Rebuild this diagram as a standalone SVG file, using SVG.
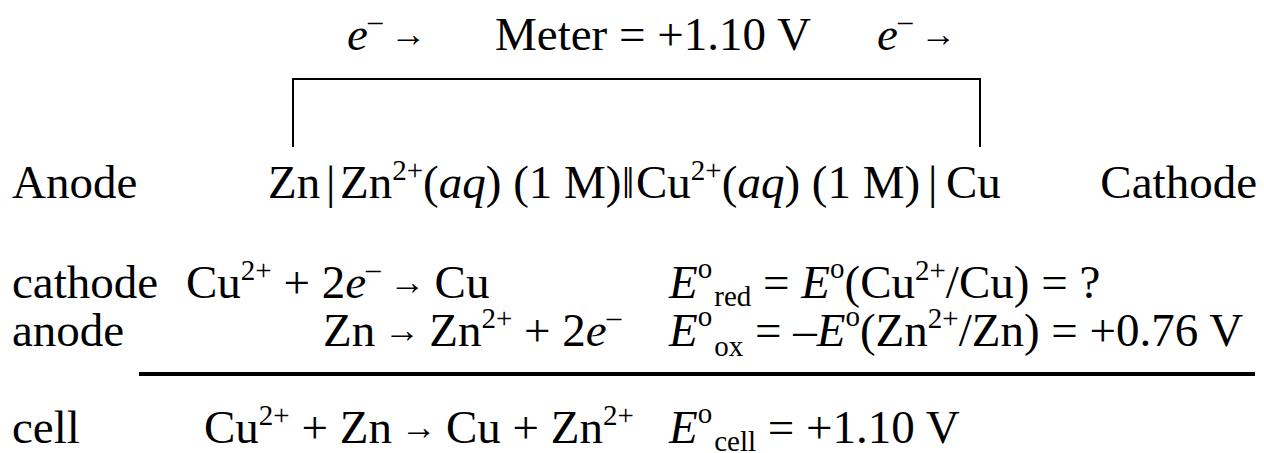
<svg xmlns="http://www.w3.org/2000/svg" width="1264" height="453" viewBox="0 0 1264 453">
<style>
text{font-family:"Liberation Serif","Times New Roman",serif;font-size:47px;fill:#000}
.i{font-style:italic}
.s{font-size:29px}
.a{font-size:36px}
.d{font-size:44px}
.w{stroke:#000;stroke-width:2;fill:none}
</style>
<rect width="1264" height="453" fill="#fff"/>
<g id="top-label">
<text x="347" y="50"><tspan class="i">e</tspan><tspan class="s" dy="-19">–</tspan><tspan class="a" dx="8" dy="15">→</tspan></text>
<text x="495" y="50">Meter = +1.10 V</text>
<text x="877" y="50"><tspan class="i">e</tspan><tspan class="s" dy="-19">–</tspan><tspan class="a" dx="8" dy="15">→</tspan></text>
</g>
<g id="connectors">
<path class="w" d="M293 147V79H980V147"/>
<line x1="139" y1="374" x2="1255" y2="374" stroke="#000" stroke-width="4"/>
</g>
<g id="anode-label"><text x="12" y="198">Anode</text></g>
<g id="cell-notation">
<text y="198"><tspan x="268">Zn</tspan><tspan x="326">|</tspan><tspan x="340">Zn</tspan><tspan class="s" dy="-18">2+</tspan><tspan dy="18">(</tspan><tspan class="i">aq</tspan><tspan>) (1 M)</tspan><tspan class="d" x="622">‖</tspan><tspan x="636">Cu</tspan><tspan class="s" dy="-18">2+</tspan><tspan dy="18">(</tspan><tspan class="i">aq</tspan><tspan>) (1 M)</tspan><tspan x="928">|</tspan><tspan x="946">Cu</tspan></text>
</g>
<g id="cathode-label"><text x="1257" y="198" text-anchor="end">Cathode</text></g>
<g id="cathode-reaction">
<text x="12" y="298">cathode</text>
<text x="186" y="298">Cu<tspan class="s" dy="-18">2+</tspan><tspan dy="18"> + 2</tspan><tspan class="i">e</tspan><tspan class="s" dy="-19">–</tspan><tspan class="a" dy="15"> → </tspan><tspan dy="4">Cu</tspan></text>
<text x="669" y="298"><tspan class="i">E</tspan><tspan class="s" dy="-20">o</tspan><tspan class="s" dx="2" dy="28">red</tspan><tspan dy="-8"> = </tspan><tspan class="i">E</tspan><tspan class="s" dy="-20">o</tspan><tspan dy="20">(Cu</tspan><tspan class="s" dy="-18">2+</tspan><tspan dy="18">/Cu) = ?</tspan></text>
</g>
<g id="anode-reaction">
<text x="12" y="346">anode</text>
<text x="323" y="346">Zn<tspan class="a" dy="-4"> → </tspan><tspan dy="4">Zn</tspan><tspan class="s" dy="-18">2+</tspan><tspan dy="18"> + 2</tspan><tspan class="i">e</tspan><tspan class="s" dy="-19">–</tspan></text>
<text x="669" y="346"><tspan class="i">E</tspan><tspan class="s" dy="-20">o</tspan><tspan class="s" dx="2" dy="30">ox</tspan><tspan dy="-10"> = –</tspan><tspan class="i">E</tspan><tspan class="s" dy="-20">o</tspan><tspan dy="20">(Zn</tspan><tspan class="s" dy="-18">2+</tspan><tspan dy="18">/Zn) = +0.76 V</tspan></text>
</g>
<g id="cell-reaction">
<text x="12" y="443">cell</text>
<text x="204" y="443">Cu<tspan class="s" dy="-18">2+</tspan><tspan dy="18"> + Zn</tspan><tspan class="a" dy="-4"> → </tspan><tspan dy="4">Cu + Zn</tspan><tspan class="s" dy="-18">2+</tspan></text>
<text x="669" y="443"><tspan class="i">E</tspan><tspan class="s" dy="-20">o</tspan><tspan class="s" dx="2" dy="28">cell</tspan><tspan dy="-8"> = +1.10 V</tspan></text>
</g>
</svg>
